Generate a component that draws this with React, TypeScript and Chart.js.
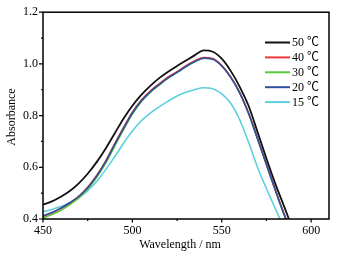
import React, { useEffect, useRef } from "react";
import { Chart, registerables } from "chart.js";

Chart.register(...registerables);

const wavelengths = [450, 455, 460, 465, 470, 475, 480, 485, 490, 495, 500, 505, 510, 515, 520, 525, 530, 535, 540, 545, 550, 555, 560, 565, 570, 575, 580, 585, 590];

const a50 = [0.455, 0.468, 0.486, 0.508, 0.538, 0.575, 0.620, 0.672, 0.730, 0.788, 0.838, 0.880, 0.915, 0.945, 0.970, 0.992, 1.013, 1.034, 1.052, 1.047, 1.020, 0.973, 0.912, 0.838, 0.737, 0.634, 0.536, 0.447, 0.355];
const a40 = [0.410, 0.424, 0.441, 0.463, 0.488, 0.523, 0.568, 0.624, 0.690, 0.753, 0.813, 0.860, 0.895, 0.923, 0.950, 0.970, 0.993, 1.012, 1.025, 1.021, 0.994, 0.950, 0.890, 0.810, 0.712, 0.612, 0.512, 0.417, 0.330];
const a30 = [0.404, 0.417, 0.434, 0.456, 0.482, 0.516, 0.560, 0.615, 0.680, 0.745, 0.806, 0.854, 0.890, 0.918, 0.945, 0.967, 0.990, 1.009, 1.022, 1.019, 0.993, 0.950, 0.890, 0.810, 0.712, 0.612, 0.512, 0.417, 0.330];
const a20 = [0.412, 0.425, 0.442, 0.463, 0.487, 0.521, 0.566, 0.621, 0.687, 0.750, 0.810, 0.857, 0.892, 0.920, 0.946, 0.967, 0.990, 1.009, 1.022, 1.018, 0.992, 0.948, 0.888, 0.808, 0.710, 0.610, 0.510, 0.415, 0.328];
const a15 = [0.428, 0.437, 0.448, 0.462, 0.482, 0.510, 0.545, 0.590, 0.640, 0.692, 0.740, 0.780, 0.810, 0.834, 0.856, 0.876, 0.890, 0.901, 0.908, 0.904, 0.884, 0.848, 0.785, 0.697, 0.600, 0.518, 0.440, 0.362, 0.290];

const seriesLabels = ["50 ℃", "40 ℃", "30 ℃", "20 ℃", "15 ℃"];
const seriesColors = ["#111111", "#e83a3a", "#58c83c", "#2f4f9f", "#5ccfdf"];
const seriesValues = [a50, a40, a30, a20, a15];

const yMajor = [0.4, 0.6, 0.8, 1.0, 1.2];
const yMinor = [0.5, 0.7, 0.9, 1.1];
const xMajor = [450, 500, 550, 600];
const xMinor = [475, 525, 575];

const FONT = "'Liberation Serif', 'Times New Roman', 'Noto Sans CJK SC', serif";

const decorPlugin = {
  id: "decor",
  afterDraw(chart: any) {
    const { ctx, chartArea, scales } = chart;
    const xs = scales.x;
    const ys = scales.y;
    ctx.save();
    ctx.strokeStyle = "#000";
    ctx.lineWidth = 1.5;
    ctx.strokeRect(chartArea.left, chartArea.top, chartArea.right - chartArea.left, chartArea.bottom - chartArea.top);
    ctx.lineWidth = 1.2;
    ctx.beginPath();
    yMajor.forEach((v) => {
      const y = ys.getPixelForValue(v);
      ctx.moveTo(chartArea.left - 4, y);
      ctx.lineTo(chartArea.left, y);
    });
    yMinor.forEach((v) => {
      const y = ys.getPixelForValue(v);
      ctx.moveTo(chartArea.left - 2, y);
      ctx.lineTo(chartArea.left, y);
    });
    xMajor.forEach((v) => {
      const x = xs.getPixelForValue(v);
      ctx.moveTo(x, chartArea.bottom);
      ctx.lineTo(x, chartArea.bottom + 3.5);
    });
    xMinor.forEach((v) => {
      const x = xs.getPixelForValue(v);
      ctx.moveTo(x, chartArea.bottom);
      ctx.lineTo(x, chartArea.bottom + 2);
    });
    ctx.stroke();

    // axis titles
    ctx.fillStyle = "#000";
    ctx.font = `12px ${FONT}`;
    ctx.textAlign = "center";
    ctx.textBaseline = "middle";
    ctx.fillText("Wavelength / nm", 180, 245);
    ctx.save();
    ctx.translate(11.5, 117);
    ctx.rotate(-Math.PI / 2);
    ctx.fillText("Absorbance", 0, 0);
    ctx.restore();

    // legend
    ctx.font = `12px ${FONT}`;
    ctx.textAlign = "left";
    ctx.textBaseline = "middle";
    seriesLabels.forEach((lab, i) => {
      const y = 42.5 + i * 14.9;
      ctx.strokeStyle = seriesColors[i];
      ctx.lineWidth = 2;
      ctx.beginPath();
      ctx.moveTo(265, y);
      ctx.lineTo(290, y);
      ctx.stroke();
      ctx.fillStyle = "#000";
      ctx.fillText(lab, 292, y + 0.5);
    });
    ctx.restore();
  },
};

export default function App() {
  const canvasRef = useRef<HTMLCanvasElement | null>(null);

  useEffect(() => {
    if (!canvasRef.current) return;
    const drawOrder = [0, 3, 1, 2, 4];
    const datasets = drawOrder.map((i) => ({
      label: seriesLabels[i],
      data: wavelengths.map((w, k) => ({ x: w, y: seriesValues[i][k] })),
      borderColor: seriesColors[i],
      backgroundColor: seriesColors[i],
      borderWidth: i === 0 ? 1.8 : 1.6,
      pointRadius: 0,
      cubicInterpolationMode: "monotone" as const,
      fill: false,
    }));
    const chart = new Chart(canvasRef.current, {
      type: "line",
      data: { datasets },
      options: {
        animation: false,
        responsive: true,
        maintainAspectRatio: false,
        layout: { padding: { top: 12, right: 13, left: 0, bottom: 0 } },
        plugins: { legend: { display: false }, tooltip: { enabled: false } },
        scales: {
          x: {
            type: "linear",
            min: 450,
            max: 610,
            grid: { display: false, drawTicks: false, tickLength: 0 },
            border: { display: false },
            ticks: {
              stepSize: 50,
              padding: 5,
              color: "#000",
              font: { family: FONT, size: 12 },
              maxRotation: 0,
            },
            afterBuildTicks: (scale: any) => {
              scale.ticks = xMajor.map((v) => ({ value: v }));
            },
            afterFit: (scale: any) => {
              scale.height = 38;
            },
          },
          y: {
            type: "linear",
            min: 0.4,
            max: 1.2,
            grid: { display: false, drawTicks: false, tickLength: 0 },
            border: { display: false },
            ticks: {
              stepSize: 0.2,
              padding: 5,
              color: "#000",
              font: { family: FONT, size: 12 },
              callback: (v: any) => Number(v).toFixed(1),
            },
            afterBuildTicks: (scale: any) => {
              scale.ticks = yMajor.map((v) => ({ value: v }));
            },
            afterFit: (scale: any) => {
              scale.width = 43;
            },
          },
        },
      },
      plugins: [decorPlugin],
    });
    return () => chart.destroy();
  }, []);

  return (
    <div style={{ position: "absolute", left: 0, top: 0, width: 342, height: 257, background: "#fff" }}>
      <canvas ref={canvasRef} />
    </div>
  );
}
